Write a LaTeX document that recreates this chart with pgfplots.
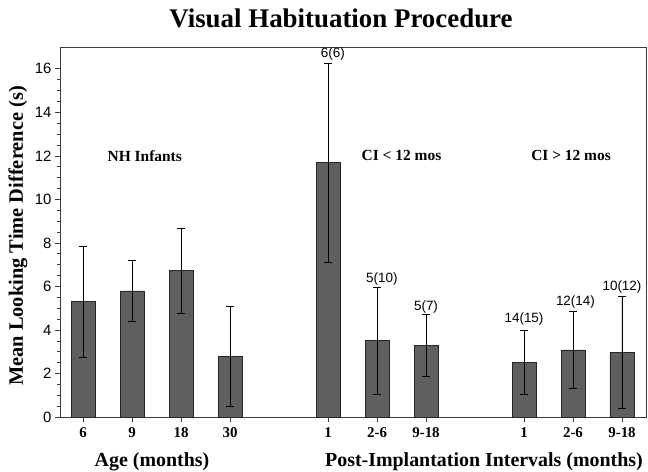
\documentclass[border=0pt]{standalone}
\usepackage{pgfplots}
\pgfplotsset{compat=1.18}
\usepackage{fontspec}
\setmainfont{Liberation Serif}
\newfontfamily\arial{Liberation Sans}
\definecolor{barfill}{RGB}{95,95,95}
\definecolor{axisgray}{RGB}{60,60,60}
\begin{document}
\begin{tikzpicture}
\begin{axis}[
  at={(0,0)}, anchor=south west,
  scale only axis, width=586bp, height=370bp,
  xmin=-0.47, xmax=11.49, ymin=0, ymax=17,
  axis line style={axisgray, line width=0.9pt},
  tick align=outside, tick pos=left,
  xtick={0,1,2,3,5,6,7,9,10,11},
  xticklabels={6,9,18,30,1,2-6,9-18,1,2-6,9-18},
  xticklabel style={font=\bfseries\fontsize{15}{15}\selectfont, yshift=-2bp},
  ytick={0,2,4,6,8,10,12,14,16},
  minor y tick num=3,
  /pgf/number format/assume math mode=true,
  yticklabel style={font=\arial\fontsize{15}{15}\selectfont},
  major tick length=5bp, minor tick length=3bp,
  tick style={axisgray, line width=0.6pt},
  clip=false,
]
\addplot[ybar, bar width=24bp, bar shift=0pt, fill=barfill, draw=black!85, line width=0.9pt,
  error bars/.cd, y dir=both, y explicit,
  error bar style={black, line width=0.7pt},
  error mark options={rotate=90, mark size=4bp, black, line width=0.7pt}]
coordinates {
 (0,5.30) +- (0,2.54)
 (1,5.79) +- (0,1.40)
 (2,6.72) +- (0,1.97)
 (3,2.79) +- (0,2.28)
 (5,11.68) +- (0,4.58)
 (6,3.50) +- (0,2.45)
 (7,3.30) +- (0,1.43)
 (9,2.51) +- (0,1.45)
 (10,3.08) +- (0,1.77)
 (11,2.97) +- (0,2.56)
};
\node[font=\bfseries\fontsize{15.5}{15.5}\selectfont] at (axis cs:1.26,12.0) {NH Infants};
\node[font=\bfseries\fontsize{15.5}{15.5}\selectfont] at (axis cs:6.5,12.0) {CI < 12 mos};
\node[font=\bfseries\fontsize{15.5}{15.5}\selectfont] at (axis cs:9.96,12.0) {CI > 12 mos};
\node[font=\arial\fontsize{13.5}{13.5}\selectfont] at (axis cs:5.1,16.7) {6(6)};
\node[font=\arial\fontsize{13.5}{13.5}\selectfont] at (axis cs:6.1,6.36) {5(10)};
\node[font=\arial\fontsize{13.5}{13.5}\selectfont] at (axis cs:7,5.07) {5(7)};
\node[font=\arial\fontsize{13.5}{13.5}\selectfont] at (axis cs:9,4.52) {14(15)};
\node[font=\arial\fontsize{13.5}{13.5}\selectfont] at (axis cs:10.05,5.30) {12(14)};
\node[font=\arial\fontsize{13.5}{13.5}\selectfont] at (axis cs:11,5.99) {10(12)};
\end{axis}
\node[font=\bfseries\fontsize{27}{27}\selectfont] at (281bp,399bp) {Visual Habituation Procedure};
\node[font=\bfseries\fontsize{20.5}{20.5}\selectfont, rotate=90] at (-42bp,181bp) {Mean Looking Time Difference (s)};
\node[font=\bfseries\fontsize{20}{20}\selectfont] at (92bp,-45bp) {Age (months)};
\node[font=\bfseries\fontsize{20}{20}\selectfont] at (424bp,-45bp) {Post-Implantation Intervals (months)};
\pgfresetboundingbox
\path[use as bounding box] (-60bp,-55bp) rectangle (588bp,417bp);
\end{tikzpicture}
\end{document}
